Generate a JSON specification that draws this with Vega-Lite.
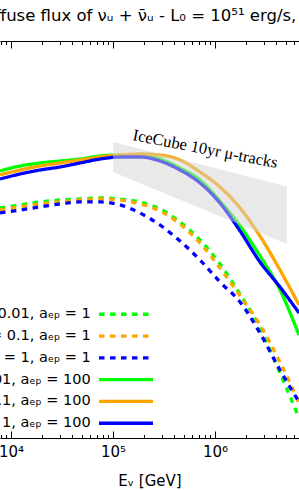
{
  "$schema": "https://vega.github.io/schema/vega-lite/v6.json",
  "width": 299,
  "height": 397,
  "autosize": {"type": "none"},
  "padding": {"left": 0, "top": 41, "right": 0, "bottom": 52},
  "background": "white",
  "config": {
    "view": {"stroke": null},
    "font": "DejaVu Sans",
    "axis": {"grid": false, "domainColor": "black", "tickColor": "black", "labelColor": "black", "titleColor": "black", "domainWidth": 1, "tickWidth": 1}
  },
  "title": {
    "text": "Diffuse flux of νᵤ + ν̄ᵤ - L₀ = 10⁵¹ erg/s, Γ=300",
    "anchor": "start",
    "frame": "group",
    "dx": -22.5,
    "fontSize": 16.5,
    "fontWeight": "normal",
    "font": "DejaVu Sans",
    "color": "black",
    "baseline": "alphabetic",
    "offset": 3
  },
  "datasets": {
    "curves": [
      {"series": "ε = 0.01, aₑₚ = 1", "E": 7800, "flux": 2.08e-9},
      {"series": "ε = 0.01, aₑₚ = 1", "E": 12250, "flux": 2.23e-9},
      {"series": "ε = 0.01, aₑₚ = 1", "E": 19240, "flux": 2.39e-9},
      {"series": "ε = 0.01, aₑₚ = 1", "E": 30220, "flux": 2.50e-9},
      {"series": "ε = 0.01, aₑₚ = 1", "E": 47480, "flux": 2.56e-9},
      {"series": "ε = 0.01, aₑₚ = 1", "E": 74570, "flux": 2.62e-9},
      {"series": "ε = 0.01, aₑₚ = 1", "E": 117100, "flux": 2.56e-9},
      {"series": "ε = 0.01, aₑₚ = 1", "E": 183900, "flux": 2.39e-9},
      {"series": "ε = 0.01, aₑₚ = 1", "E": 288900, "flux": 2.03e-9},
      {"series": "ε = 0.01, aₑₚ = 1", "E": 453900, "flux": 1.50e-9},
      {"series": "ε = 0.01, aₑₚ = 1", "E": 712800, "flux": 9.89e-10},
      {"series": "ε = 0.01, aₑₚ = 1", "E": 1119000, "flux": 5.66e-10},
      {"series": "ε = 0.01, aₑₚ = 1", "E": 1759000, "flux": 2.82e-10},
      {"series": "ε = 0.01, aₑₚ = 1", "E": 2762000, "flux": 1.28e-10},
      {"series": "ε = 0.01, aₑₚ = 1", "E": 4338000, "flux": 4.52e-11},
      {"series": "ε = 0.01, aₑₚ = 1", "E": 6660000, "flux": 1.59e-11},

      {"series": "ε = 0.1, aₑₚ = 1", "E": 7800, "flux": 1.98e-9},
      {"series": "ε = 0.1, aₑₚ = 1", "E": 12250, "flux": 2.13e-9},
      {"series": "ε = 0.1, aₑₚ = 1", "E": 19240, "flux": 2.28e-9},
      {"series": "ε = 0.1, aₑₚ = 1", "E": 30220, "flux": 2.39e-9},
      {"series": "ε = 0.1, aₑₚ = 1", "E": 47480, "flux": 2.50e-9},
      {"series": "ε = 0.1, aₑₚ = 1", "E": 74570, "flux": 2.56e-9},
      {"series": "ε = 0.1, aₑₚ = 1", "E": 117100, "flux": 2.50e-9},
      {"series": "ε = 0.1, aₑₚ = 1", "E": 183900, "flux": 2.28e-9},
      {"series": "ε = 0.1, aₑₚ = 1", "E": 288900, "flux": 1.94e-9},
      {"series": "ε = 0.1, aₑₚ = 1", "E": 453900, "flux": 1.43e-9},
      {"series": "ε = 0.1, aₑₚ = 1", "E": 712800, "flux": 9.22e-10},
      {"series": "ε = 0.1, aₑₚ = 1", "E": 1119000, "flux": 5.16e-10},
      {"series": "ε = 0.1, aₑₚ = 1", "E": 1759000, "flux": 2.70e-10},
      {"series": "ε = 0.1, aₑₚ = 1", "E": 2762000, "flux": 1.38e-10},
      {"series": "ε = 0.1, aₑₚ = 1", "E": 4338000, "flux": 5.83e-11},
      {"series": "ε = 0.1, aₑₚ = 1", "E": 6660000, "flux": 2.25e-11},

      {"series": "ε = 1, aₑₚ = 1", "E": 7800, "flux": 1.85e-9},
      {"series": "ε = 1, aₑₚ = 1", "E": 12250, "flux": 1.98e-9},
      {"series": "ε = 1, aₑₚ = 1", "E": 19240, "flux": 2.13e-9},
      {"series": "ε = 1, aₑₚ = 1", "E": 30220, "flux": 2.28e-9},
      {"series": "ε = 1, aₑₚ = 1", "E": 47480, "flux": 2.39e-9},
      {"series": "ε = 1, aₑₚ = 1", "E": 74570, "flux": 2.39e-9},
      {"series": "ε = 1, aₑₚ = 1", "E": 117100, "flux": 2.23e-9},
      {"series": "ε = 1, aₑₚ = 1", "E": 183900, "flux": 1.85e-9},
      {"series": "ε = 1, aₑₚ = 1", "E": 288900, "flux": 1.40e-9},
      {"series": "ε = 1, aₑₚ = 1", "E": 453900, "flux": 9.66e-10},
      {"series": "ε = 1, aₑₚ = 1", "E": 712800, "flux": 6.22e-10},
      {"series": "ε = 1, aₑₚ = 1", "E": 1119000, "flux": 3.73e-10},
      {"series": "ε = 1, aₑₚ = 1", "E": 1759000, "flux": 2.35e-10},
      {"series": "ε = 1, aₑₚ = 1", "E": 2762000, "flux": 1.14e-10},
      {"series": "ε = 1, aₑₚ = 1", "E": 4338000, "flux": 4.84e-11},
      {"series": "ε = 1, aₑₚ = 1", "E": 6660000, "flux": 2.31e-11},

      {"series": "ε = 0.01, aₑₚ = 100", "E": 7800, "flux": 4.90e-9},
      {"series": "ε = 0.01, aₑₚ = 100", "E": 12250, "flux": 5.50e-9},
      {"series": "ε = 0.01, aₑₚ = 100", "E": 19240, "flux": 5.90e-9},
      {"series": "ε = 0.01, aₑₚ = 100", "E": 30220, "flux": 6.18e-9},
      {"series": "ε = 0.01, aₑₚ = 100", "E": 47480, "flux": 6.47e-9},
      {"series": "ε = 0.01, aₑₚ = 100", "E": 74570, "flux": 6.94e-9},
      {"series": "ε = 0.01, aₑₚ = 100", "E": 117100, "flux": 7.10e-9},
      {"series": "ε = 0.01, aₑₚ = 100", "E": 183900, "flux": 7.02e-9},
      {"series": "ε = 0.01, aₑₚ = 100", "E": 288900, "flux": 6.47e-9},
      {"series": "ε = 0.01, aₑₚ = 100", "E": 453900, "flux": 5.25e-9},
      {"series": "ε = 0.01, aₑₚ = 100", "E": 712800, "flux": 3.98e-9},
      {"series": "ε = 0.01, aₑₚ = 100", "E": 1119000, "flux": 2.44e-9},
      {"series": "ε = 0.01, aₑₚ = 100", "E": 1759000, "flux": 1.37e-9},
      {"series": "ε = 0.01, aₑₚ = 100", "E": 2762000, "flux": 6.82e-10},
      {"series": "ε = 0.01, aₑₚ = 100", "E": 4338000, "flux": 3.10e-10},
      {"series": "ε = 0.01, aₑₚ = 100", "E": 6660000, "flux": 1.09e-10},

      {"series": "ε = 0.1, aₑₚ = 100", "E": 7800, "flux": 4.47e-9},
      {"series": "ε = 0.1, aₑₚ = 100", "E": 12250, "flux": 5.01e-9},
      {"series": "ε = 0.1, aₑₚ = 100", "E": 19240, "flux": 5.50e-9},
      {"series": "ε = 0.1, aₑₚ = 100", "E": 30220, "flux": 5.90e-9},
      {"series": "ε = 0.1, aₑₚ = 100", "E": 47480, "flux": 6.32e-9},
      {"series": "ε = 0.1, aₑₚ = 100", "E": 74570, "flux": 6.78e-9},
      {"series": "ε = 0.1, aₑₚ = 100", "E": 117100, "flux": 7.10e-9},
      {"series": "ε = 0.1, aₑₚ = 100", "E": 183900, "flux": 7.27e-9},
      {"series": "ε = 0.1, aₑₚ = 100", "E": 288900, "flux": 7.10e-9},
      {"series": "ε = 0.1, aₑₚ = 100", "E": 453900, "flux": 6.32e-9},
      {"series": "ε = 0.1, aₑₚ = 100", "E": 712800, "flux": 4.79e-9},
      {"series": "ε = 0.1, aₑₚ = 100", "E": 1119000, "flux": 3.38e-9},
      {"series": "ε = 0.1, aₑₚ = 100", "E": 1759000, "flux": 2.08e-9},
      {"series": "ε = 0.1, aₑₚ = 100", "E": 2762000, "flux": 1.08e-9},
      {"series": "ε = 0.1, aₑₚ = 100", "E": 4338000, "flux": 4.93e-10},
      {"series": "ε = 0.1, aₑₚ = 100", "E": 6660000, "flux": 2.19e-10},

      {"series": "ε = 1, aₑₚ = 100", "E": 7800, "flux": 4.07e-9},
      {"series": "ε = 1, aₑₚ = 100", "E": 12250, "flux": 4.57e-9},
      {"series": "ε = 1, aₑₚ = 100", "E": 19240, "flux": 5.01e-9},
      {"series": "ε = 1, aₑₚ = 100", "E": 30220, "flux": 5.38e-9},
      {"series": "ε = 1, aₑₚ = 100", "E": 47480, "flux": 5.90e-9},
      {"series": "ε = 1, aₑₚ = 100", "E": 74570, "flux": 6.47e-9},
      {"series": "ε = 1, aₑₚ = 100", "E": 117100, "flux": 6.78e-9},
      {"series": "ε = 1, aₑₚ = 100", "E": 183900, "flux": 6.78e-9},
      {"series": "ε = 1, aₑₚ = 100", "E": 288900, "flux": 6.18e-9},
      {"series": "ε = 1, aₑₚ = 100", "E": 453900, "flux": 5.01e-9},
      {"series": "ε = 1, aₑₚ = 100", "E": 712800, "flux": 3.71e-9},
      {"series": "ε = 1, aₑₚ = 100", "E": 1119000, "flux": 2.33e-9},
      {"series": "ε = 1, aₑₚ = 100", "E": 1759000, "flux": 1.22e-9},
      {"series": "ε = 1, aₑₚ = 100", "E": 2762000, "flux": 5.93e-10},
      {"series": "ε = 1, aₑₚ = 100", "E": 4338000, "flux": 3.32e-10},
      {"series": "ε = 1, aₑₚ = 100", "E": 6660000, "flux": 1.82e-10}
    ],
    "band": [
      {"E": 100000, "lo": 4.79e-9, "hi": 9.60e-9},
      {"E": 5080000, "lo": 9.01e-10, "hi": 3.42e-9}
    ],
    "note": [
      {"E": 153500, "flux": 1.006e-8, "text": "IceCube 10yr μ-tracks"}
    ]
  },
  "resolve": {"axis": {"x": "independent"}},
  "layer": [
    {
      "data": {"name": "curves"},
      "mark": {"type": "line", "clip": true, "interpolate": "monotone", "strokeCap": "butt"},
      "encoding": {
        "x": {
          "field": "E", "type": "quantitative",
          "scale": {"type": "log", "domain": [7800, 6660000], "nice": false},
          "axis": {
            "orient": "bottom",
            "values": [8000, 9000, 10000, 20000, 30000, 40000, 50000, 60000, 70000, 80000, 90000, 100000, 200000, 300000, 400000, 500000, 600000, 700000, 800000, 900000, 1000000, 2000000, 3000000, 4000000, 5000000, 6000000],
            "labelExpr": "datum.value == 10000 ? '10⁴' : datum.value == 100000 ? '10⁵' : datum.value == 1000000 ? '10⁶' : ''",
            "labelOverlap": false,
            "labelFlush": false,
            "labelFontSize": 15,
            "labelPadding": 13,
            "tickSize": {"condition": {"test": "datum.value == 10000 || datum.value == 100000 || datum.value == 1000000", "value": -7}, "value": -3.5},
            "title": "Eᵥ [GeV]",
            "titleFontSize": 15,
            "titleFontWeight": "normal",
            "titlePadding": 11
          }
        },
        "y": {
          "field": "flux", "type": "quantitative",
          "scale": {"type": "log", "domain": [1e-11, 1e-7], "nice": false},
          "axis": null
        },
        "color": {
          "field": "series", "type": "nominal",
          "scale": {
            "domain": ["ε = 0.01, aₑₚ = 1", "ε = 0.1, aₑₚ = 1", "ε = 1, aₑₚ = 1", "ε = 0.01, aₑₚ = 100", "ε = 0.1, aₑₚ = 100", "ε = 1, aₑₚ = 100"],
            "range": ["#00ff00", "#ffa500", "#0000ff", "#00ff00", "#ffa500", "#0000ff"]
          },
          "legend": {
            "orient": "none",
            "legendX": 118.75,
            "legendY": 266,
            "title": null,
            "padding": 0,
            "symbolType": "M-6,0H6",
            "symbolSize": 81,
            "symbolStrokeWidth": 3.5,
            "rowPadding": 6.8,
            "labelAlign": "right",
            "labelOffset": -42.5,
            "labelFontSize": 14.5,
            "labelFont": "DejaVu Sans",
            "labelColor": "black",
            "labelLimit": 400
          }
        },
        "strokeDash": {
          "field": "series", "type": "nominal",
          "scale": {
            "domain": ["ε = 0.01, aₑₚ = 1", "ε = 0.1, aₑₚ = 1", "ε = 1, aₑₚ = 1", "ε = 0.01, aₑₚ = 100", "ε = 0.1, aₑₚ = 100", "ε = 1, aₑₚ = 100"],
            "range": [[5.5, 5.5], [5.5, 5.5], [5.5, 5.5], [1, 0], [1, 0], [1, 0]]
          }
        },
        "strokeWidth": {
          "field": "series", "type": "nominal",
          "scale": {
            "domain": ["ε = 0.01, aₑₚ = 1", "ε = 0.1, aₑₚ = 1", "ε = 1, aₑₚ = 1", "ε = 0.01, aₑₚ = 100", "ε = 0.1, aₑₚ = 100", "ε = 1, aₑₚ = 100"],
            "range": [3.3, 3.3, 3.3, 4.3, 4.3, 4.3]
          },
          "legend": null
        }
      }
    },
    {
      "data": {"name": "band"},
      "mark": {"type": "area", "fill": "#d3d3d3", "opacity": 0.5, "clip": true},
      "encoding": {
        "x": {
          "field": "E", "type": "quantitative",
          "axis": {
            "orient": "top",
            "values": [8000, 9000, 10000, 20000, 30000, 40000, 50000, 60000, 70000, 80000, 90000, 100000, 200000, 300000, 400000, 500000, 600000, 700000, 800000, 900000, 1000000, 2000000, 3000000, 4000000, 5000000, 6000000],
            "labels": false,
            "title": null,
            "tickSize": {"condition": {"test": "datum.value == 10000 || datum.value == 100000 || datum.value == 1000000", "value": -7}, "value": -3.5}
          }
        },
        "y": {"field": "lo", "type": "quantitative"},
        "y2": {"field": "hi"}
      }
    },
    {
      "data": {"name": "note"},
      "mark": {"type": "text", "align": "left", "baseline": "alphabetic", "angle": 11, "font": "Liberation Serif", "fontSize": 16.5, "color": "black"},
      "encoding": {
        "x": {"field": "E", "type": "quantitative", "axis": null},
        "y": {"field": "flux", "type": "quantitative"},
        "text": {"field": "text"}
      }
    }
  ]
}
